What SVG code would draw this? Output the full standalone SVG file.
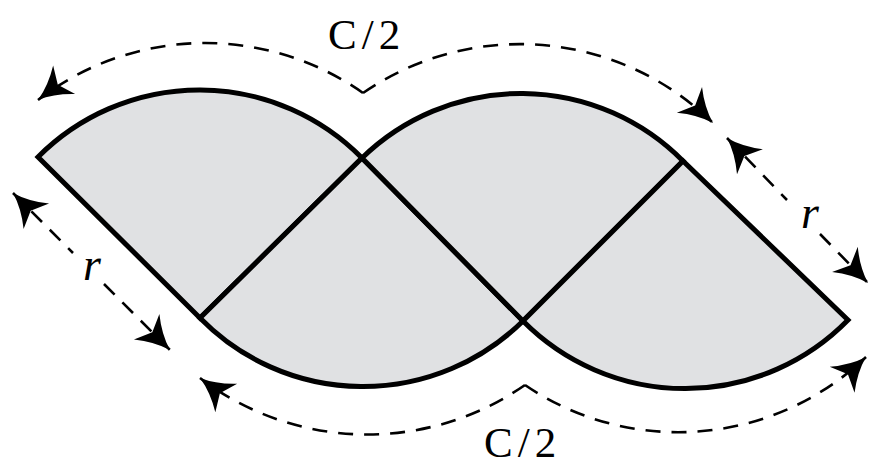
<svg xmlns="http://www.w3.org/2000/svg" width="870" height="468" viewBox="0 0 870 468">
  <style>
    .sector { fill: #e0e1e3; stroke: #000; stroke-width: 5; stroke-linejoin: miter; stroke-miterlimit: 10; }
    .dash { fill: none; stroke: #000; stroke-width: 2.6; stroke-dasharray: 15 11; }
    .lbl { font-family: "Liberation Serif", "Times New Roman", serif; font-size: 43px; fill: #000; }
    .r { font-family: "Liberation Serif", "Times New Roman", serif; font-size: 46px; font-style: italic; fill: #000; }
  </style>
  <defs>
    <marker id="ah" markerUnits="userSpaceOnUse" viewBox="-36 -22 40 44" markerWidth="40" markerHeight="44" refX="0" refY="0" orient="auto-start-reverse" overflow="visible">
      <path d="M0,0 Q-17,-5 -33,-18 L-25,0 L-33,18 Q-17,5 0,0 Z" fill="#000" stroke="none"/>
    </marker>
  </defs>
  <rect width="870" height="468" fill="#fff"/>
  <g id="sector1"><path class="sector" d="M200,318 L38,157 A228,228 0 0 1 362,158 Z"/></g>
  <g id="sector2"><path class="sector" d="M362,158 L200,318 A228,228 0 0 0 523,321 Z"/></g>
  <g id="sector3"><path class="sector" d="M523,321 L362,158 A228,228 0 0 1 683,161 Z"/></g>
  <g id="sector4"><path class="sector" d="M683,161 L523,321 A228,228 0 0 0 848,320 Z"/></g>
  <g id="connectors">
    <path class="dash" d="M363,93 A274,274 0 0 0 38,100" marker-end="url(#ah)"/>
    <path class="dash" d="M363,93 A276,276 0 0 1 713,123" marker-end="url(#ah)"/>
    <path class="dash" d="M525,385 A276,276 0 0 1 200,378" marker-end="url(#ah)"/>
    <path class="dash" d="M525,385 A272,272 0 0 0 866,357" marker-end="url(#ah)"/>
    <path class="dash" d="M13,193 L73,253" marker-start="url(#ah)"/>
    <path class="dash" d="M104,284 L170,350" marker-end="url(#ah)"/>
    <path class="dash" d="M727,138 L787,200" marker-start="url(#ah)"/>
    <path class="dash" d="M820,234 L868,283" marker-end="url(#ah)"/>
  </g>
  <g id="labels">
    <text class="lbl" x="328" y="49" letter-spacing="5">C/2</text>
    <text class="lbl" x="484" y="457" letter-spacing="5">C/2</text>
    <text class="r" x="83" y="280">r</text>
    <text class="r" x="801" y="228">r</text>
  </g>
</svg>
